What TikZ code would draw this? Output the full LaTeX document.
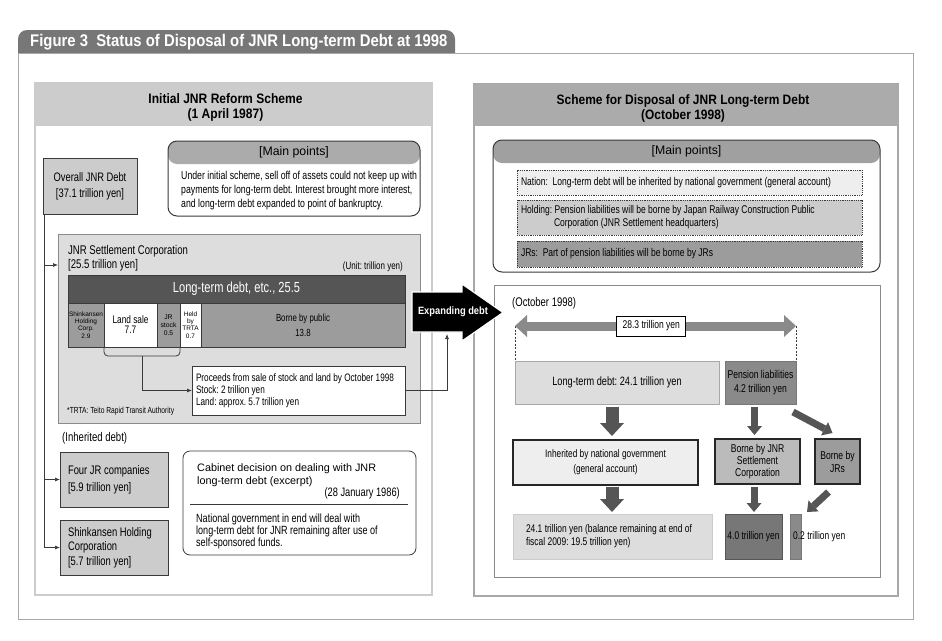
\documentclass[tikz,border=0pt]{standalone}
\usepackage{fontspec}
\setmainfont{Liberation Sans}[FakeStretch=0.76]
\newfontfamily\titlefont{Liberation Sans}[FakeStretch=0.88]
\newfontfamily\plainfont{Liberation Sans}
\usetikzlibrary{calc,positioning,arrows.meta}
\frenchspacing

% Greys of the figure
\definecolor{tabgrey}{HTML}{777777}
\definecolor{framegrey}{HTML}{A8A8A8}
\definecolor{palegrey}{HTML}{CCCCCC}
\definecolor{headgrey}{HTML}{ABABAB}
\definecolor{pointgrey}{HTML}{A0A0A0}
\definecolor{lightgrey}{HTML}{DDDDDD}
\definecolor{whitegrey}{HTML}{EEEEEE}
\definecolor{jnrgrey}{HTML}{BBBBBB}
\definecolor{cellgrey}{HTML}{9C9C9C}
\definecolor{darkgrey}{HTML}{555555}
\definecolor{arrowgrey}{HTML}{8A8A8A}
\definecolor{inkgrey}{HTML}{3A3A3A}

\newcommand{\setfs}[2]{\fontsize{#1}{#2}\selectfont}

\tikzset{
  box/.style={anchor=north west, inner sep=0pt, outer sep=0pt, align=center},
  ragged/.style={align=left, execute at begin node={\spaceskip=0pt\xspaceskip=0pt\relax}},
  greybox/.style={box, draw=inkgrey, line width=0.8pt, fill=#1},
  cell/.style={box, draw=inkgrey, line width=0.7pt, fill=#1, minimum height=44pt},
  pointsbox/.style={box, draw=inkgrey, line width=1pt, rounded corners=9pt, fill=white,
    path picture={\fill[#1] (path picture bounding box.north west) rectangle ([yshift=-23pt]path picture bounding box.north east);}},
  dotbox/.style={box, draw=inkgrey, densely dotted, line width=0.8pt, fill=#1,
    text width=337pt, inner xsep=4pt, ragged, minimum height=25pt},
  heavybox/.style={box, draw=black!85, line width=1.6pt, fill=#1},
  dropbig/.style={darkgrey, line width=13pt, -{Triangle[length=13pt,width=24pt,line width=0pt]}},
  dropsmall/.style={darkgrey, line width=7pt, -{Triangle[length=9pt,width=15pt,line width=0pt]}},
  link/.style={inkgrey, line width=0.7pt, -{Latex[length=5pt,width=4pt]}},
}

\begin{document}
\begin{tikzpicture}[x=1pt,y=-1pt, every node/.append style={inner sep=0pt}]
\useasboundingbox (0,0) rectangle (942,640);

% Tab and outer frame
\fill[tabgrey, rounded corners=9pt] (18,30) rectangle (455,70);
\filldraw[fill=white, draw=framegrey, line width=0.8pt] (18,53) rectangle (913,619);
\node[anchor=west, text=white, font=\titlefont\bfseries\setfs{16.9}{18}] (figtitle) at (30,42)
  {Figure 3\ \ Status of Disposal of JNR Long-term Debt at 1998};

% Left panel: initial scheme
\node[box, draw=palegrey, line width=1.2pt, minimum width=397pt, minimum height=512pt] (leftpanel) at (35,83) {};
\fill[palegrey] (leftpanel.north west) rectangle ($(leftpanel.north east)+(0,43)$);
\node[font=\titlefont\bfseries\setfs{13.7}{15}, align=center] (lefttitle) at ($(leftpanel.north)+(-8,24)$)
  {Initial JNR Reform Scheme\\(1 April 1987)};

\node[greybox=palegrey, minimum width=94pt, minimum height=56pt, font=\setfs{12.3}{16}] (overall) at (43,158)
  {Overall JNR Debt\\{[37.1 trillion yen]}};

% Main points (left)
\node[pointsbox=headgrey, minimum width=252pt, minimum height=75pt] (pointsL) at (168,141) {};
\node[font=\plainfont\setfs{12.3}{14}] (pointsLhead) at ($(pointsL.north)+(0,11.5)$) {[Main points]};
\node[anchor=north west, align=left, font=\setfs{11.5}{14}] (pointsLtext) at ($(pointsL.north west)+(13,30)$)
  {Under initial scheme, sell off of assets could not keep up with\\
   payments for long-term debt. Interest brought more interest,\\
   and long-term debt expanded to point of bankruptcy.};

% JNR Settlement Corporation
\node[box, draw=arrowgrey, line width=0.8pt, fill=lightgrey, minimum width=362pt, minimum height=189pt] (settle) at (58,234) {};
\node[anchor=north west, align=left, font=\setfs{12.6}{14}] (settletext) at ($(settle.north west)+(10,11)$)
  {JNR Settlement Corporation\\{[25.5 trillion yen]}};
\node[anchor=east, font=\setfs{10.5}{12}] (unit) at ($(settle.north east)+(-17,33)$) {(Unit: trillion yen)};

\node[box, fill=darkgrey, draw=inkgrey, line width=0.7pt, minimum width=337pt, minimum height=28pt,
  text=white, font=\setfs{14.6}{16}] (longbar) at (68,275) {Long-term debt, etc., 25.5};

% Break-down of the debt
\node[cell=cellgrey, minimum width=36pt, font=\plainfont\setfs{6.5}{7.3}] (shk) at (longbar.south west) {Shinkansen\\Holding\\Corp.\\2.9};
\node[cell=white, minimum width=53pt, font=\setfs{10.9}{10}] (land) at (shk.north east) {Land sale\\7.7};
\node[cell=cellgrey, minimum width=23pt, font=\plainfont\setfs{6.8}{8}] (jrstock) at (land.north east) {JR\\stock\\0.5};
\node[cell=white, minimum width=21pt, font=\plainfont\setfs{6.5}{7.3}] (trta) at (jrstock.north east) {Held\\by\\TRTA\\0.7};
\node[cell=cellgrey, minimum width=204pt, font=\setfs{10.3}{15}] (public) at (trta.north east) {Borne by public\\13.8};

\node[box, fill=white, draw=inkgrey, line width=0.7pt, minimum width=213pt, minimum height=49pt,
  text width=205pt, inner xsep=4pt, ragged, font=\setfs{10.8}{12}] (proceeds) at (192,366)
  {Proceeds from sale of stock and land by October 1998\\Stock: 2 trillion yen\\Land: approx. 5.7 trillion yen};
\node[anchor=west, font=\setfs{8.8}{10}] (trtanote) at ($(settle.south west)+(9,-12)$) {*TRTA: Teito Rapid Transit Authority};

% Brace and link to proceeds
\draw[inkgrey, line width=0.8pt, rounded corners=4pt] (land.south west) -- ++(0,9) -| (jrstock.south east);
\coordinate (braceMid) at ($(land.south west)!0.5!(jrstock.south east)+(0,9)$);
\draw[link] (braceMid) |- (proceeds.west);

% Inherited debt
\node[anchor=west, font=\setfs{12.6}{14}] (inheritlabel) at (62,438) {(Inherited debt)};
\node[greybox=palegrey, minimum width=108pt, minimum height=55pt, text width=92pt, inner xsep=8pt,
  ragged, font=\setfs{12.4}{17}] (fourjr) at (60,452) {Four JR companies\\{[5.9 trillion yen]}};
\node[greybox=palegrey, minimum width=108pt, minimum height=55pt, text width=92pt, inner xsep=8pt,
  ragged, font=\setfs{12.4}{14.5}] (shinkansen) at (60,520) {Shinkansen Holding\\Corporation\\{[5.7 trillion yen]}};

\coordinate (trunk) at ($(overall.south west)+(1,0)$);
\draw[link] (trunk) |- ($(settle.north west)+(0,31)$);
\draw[link] (trunk) |- (fourjr.west);
\draw[link] (trunk) |- (shinkansen.west);

% Cabinet decision
\node[box, fill=white, draw=inkgrey, line width=0.8pt, rounded corners=7pt, minimum width=233pt, minimum height=104pt] (cabinet) at (183,451) {};
\node[anchor=north west, align=left, font=\plainfont\setfs{10.8}{13}] (cabtitle) at ($(cabinet.north west)+(14,12)$)
  {Cabinet decision on dealing with JNR\\long-term debt (excerpt)};
\node[anchor=east, font=\setfs{12.2}{14}] (cabdate) at ($(cabinet.north east)+(-16,42)$) {(28 January 1986)};
\draw[inkgrey, line width=0.7pt] ($(cabinet.north west)+(7,53)$) -- ($(cabinet.north east)+(-8,53)$);
\node[anchor=north west, align=left, font=\setfs{11.9}{12}] (cabtext) at ($(cabinet.north west)+(13,63)$)
  {National government in end will deal with\\long-term debt for JNR remaining after use of\\self-sponsored funds.};

% Right panel: disposal scheme
\node[box, draw=framegrey, line width=1.2pt, minimum width=424pt, minimum height=512pt] (rightpanel) at (474,84) {};
\fill[headgrey] (rightpanel.north west) rectangle ($(rightpanel.north east)+(0,42)$);
\node[font=\titlefont\bfseries\setfs{13.6}{15}, align=center] (righttitle) at ($(rightpanel.north)+(-3,24)$)
  {Scheme for Disposal of JNR Long-term Debt\\(October 1998)};

% Main points (right)
\node[pointsbox=pointgrey, minimum width=387pt, minimum height=132pt] (pointsR) at (493,140) {};
\node[font=\plainfont\setfs{12.3}{14}] (pointsRhead) at ($(pointsR.north)+(0,11.5)$) {[Main points]};
\node[dotbox=whitegrey, font=\setfs{11.2}{13}] (nation) at (517,170)
  {Nation:\ \ Long-term debt will be inherited by national government (general account)};
\node[dotbox=palegrey, minimum height=35pt, font=\setfs{11.2}{13}] (holding) at (517,200)
  {Holding: Pension liabilities will be borne by Japan Railway Construction Public\\
   \hspace*{33pt}Corporation (JNR Settlement headquarters)};
\node[dotbox=cellgrey, minimum height=26pt, font=\setfs{11.2}{13}] (jrs) at (517,241)
  {JRs:\ \ Part of pension liabilities will be borne by JRs};

% October 1998 breakdown
\node[box, draw=arrowgrey, line width=1pt, minimum width=386pt, minimum height=292pt] (breakdown) at (494,285) {};
\node[anchor=west, font=\setfs{12.5}{14}] (october) at (512,303) {(October 1998)};

\node[box, fill=lightgrey, draw=framegrey, line width=0.8pt, minimum width=204pt, minimum height=43pt,
  font=\setfs{12.1}{14}] (ltdebt) at (515,361) {Long-term debt: 24.1 trillion yen};
\node[box, fill=arrowgrey, draw=tabgrey, line width=0.8pt, minimum width=71pt, minimum height=43pt,
  font=\setfs{11.3}{14}] (pension) at (725,361) {Pension liabilities\\4.2 trillion yen};

\coordinate (spanL) at ($(ltdebt.north west)+(0,-35)$);
\coordinate (spanR) at ($(pension.north east)+(0,-35)$);
\draw[inkgrey, line width=0.7pt, dash pattern=on 2pt off 1.5pt] (spanL) -- (ltdebt.north west);
\draw[inkgrey, line width=0.7pt, dash pattern=on 2pt off 1.5pt] (spanR) -- (pension.north east);
\draw[arrowgrey, line width=9pt, {Triangle[length=12pt,width=22pt,line width=0pt]}-{Triangle[length=12pt,width=22pt,line width=0pt]}] (spanL) -- (spanR);
\node[fill=white, draw=black, line width=0.9pt, minimum width=69pt, minimum height=20pt, font=\setfs{11.2}{12}] (span)
  at ($(spanL)!0.485!(spanR)$) {28.3 trillion yen};

\node[heavybox=whitegrey, minimum width=185pt, minimum height=45pt, font=\setfs{10.9}{15}] (govt) at (513,440)
  {Inherited by national government\\(general account)};
\node[box, fill=lightgrey, draw=palegrey, line width=0.8pt, minimum width=199pt, minimum height=45pt,
  text width=173pt, inner xsep=13pt, ragged, font=\setfs{11.1}{13}] (final) at (513,514)
  {24.1 trillion yen (balance remaining at end of\\fiscal 2009: 19.5 trillion yen)};
\node[heavybox=jnrgrey, minimum width=85pt, minimum height=45pt, font=\setfs{11.3}{12}] (bornejnr) at (715,439)
  {Borne by JNR\\Settlement\\Corporation};
\node[heavybox=cellgrey, minimum width=45pt, minimum height=45pt, font=\setfs{11.3}{13}] (bornejr) at (815,439)
  {Borne by\\JRs};
\node[box, fill=tabgrey, draw=darkgrey, line width=0.6pt, minimum width=57pt, minimum height=45pt,
  font=\setfs{11.1}{13}] (four) at (725,514) {4.0 trillion yen};
\node[box, fill=arrowgrey, draw=tabgrey, line width=0.6pt, minimum width=11pt, minimum height=45pt] (tiny) at (790,514) {};
\node[anchor=west, font=\setfs{11.1}{13}] (tinylabel) at ($(tiny.west)+(3,0)$) {0.2 trillion yen};

% Fat arrows
\draw[dropbig] ([xshift=-5pt,yshift=-3pt]ltdebt.south) -- ([xshift=-5pt,yshift=4pt]ltdebt.south |- govt.north);
\draw[dropbig] ([xshift=-5pt,yshift=-2pt]ltdebt.south |- govt.south) -- ([xshift=-5pt,yshift=2pt]ltdebt.south |- final.north);
\draw[dropsmall] ([xshift=-6pt,yshift=-3pt]pension.south) -- ([xshift=-6pt,yshift=4pt]pension.south |- bornejnr.north);
\draw[dropsmall] ($(pension.south east)+(-3,8)$) -- ($(bornejr.north)+(-5,-6)$);
\draw[dropsmall] ([xshift=-3.5pt,yshift=-3pt]bornejnr.south) -- ([xshift=-3.5pt,yshift=2pt]bornejnr.south |- four.north);
\draw[dropsmall] ($(bornejr.south)+(-9,8)$) -- ($(tiny.north east)+(6,-2)$);

% Expanding debt arrow
\filldraw[fill=black, draw=white, line width=1.2pt] (412,292) -- (462,292) -- (462,284) -- (503,312.5)
  -- (462,341) -- (462,332) -- (412,332) -- cycle;
\node[text=white, font=\titlefont\bfseries\setfs{10.6}{12}] (expand) at (453,312) {Expanding debt};
\coordinate (lift) at (447,334);
\draw[link] (proceeds.east) -| (lift);

\end{tikzpicture}
\end{document}
